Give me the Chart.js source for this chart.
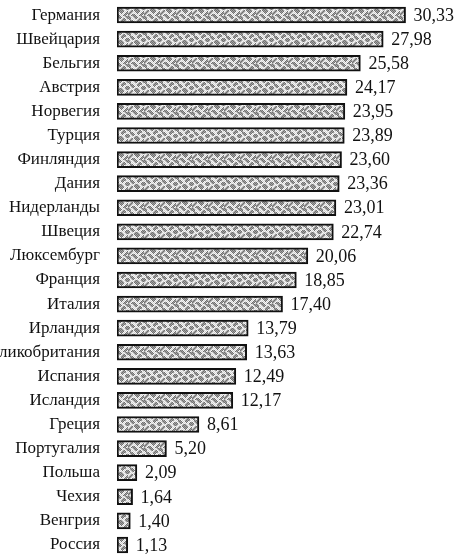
<!DOCTYPE html>
<html>
<head>
<meta charset="utf-8">
<script src="https://cdn.jsdelivr.net/npm/chart.js@4/dist/chart.umd.min.js"></script>
<style>
html,body{margin:0;padding:0;background:#fff;overflow:hidden;}
canvas{display:block;}
</style>
</head>
<body>
<canvas id="c" width="460" height="560" style="width:460px;height:560px"></canvas>
<script>
const countries = ["Германия","Швейцария","Бельгия","Австрия","Норвегия","Турция","Финляндия","Дания","Нидерланды","Швеция","Люксембург","Франция","Италия","Ирландия","Великобритания","Испания","Исландия","Греция","Португалия","Польша","Чехия","Венгрия","Россия"];
const values = [30.33,27.98,25.58,24.17,23.95,23.89,23.60,23.36,23.01,22.74,20.06,18.85,17.40,13.79,13.63,12.49,12.17,8.61,5.20,2.09,1.64,1.40,1.13];

// dithered gray texture (deterministic, blotchy halftone look)
function makePattern(){
  const n = 16;
  const p = document.createElement('canvas');
  p.width = n; p.height = n;
  const g = p.getContext('2d');
  // light/dark blotch map for a 16x16 tile (1 = darker area)
  const map = [
    "1100011110000111",
    "1110001111000011",
    "1110000110011001",
    "0110000000111100",
    "0011100001111100",
    "0011110001110000",
    "1001111000100011",
    "1100110000000111",
    "1100000111000111",
    "1000001111100011",
    "0001101111110000",
    "0011100111110001",
    "0111000011100011",
    "1110000001000111",
    "1100111000001110",
    "1001111100011100"
  ];
  for(let y=0;y<n;y++)for(let x=0;x<n;x++){
    const dark = map[y][x]==='1';
    const chk = (x+y)%2===0;
    g.fillStyle = dark ? (chk?'#707070':'#a4a4a4') : (chk?'#d2d2d2':'#f6f6f6');
    g.fillRect(x,y,1,1);
  }
  return g.createPattern(p,'repeat');
}

const valueLabels = {
  id:'valueLabels',
  afterDatasetsDraw(chart){
    const ctx = chart.ctx;
    const meta = chart.getDatasetMeta(0);
    ctx.save();
    ctx.font = '18px "Liberation Serif", "DejaVu Serif", serif';
    ctx.fillStyle = '#111';
    ctx.textBaseline = 'middle';
    ctx.textAlign = 'left';
    meta.data.forEach((bar,i)=>{
      const v = chart.data.datasets[0].data[i];
      ctx.fillText(v.toFixed(2).replace('.',','), bar.x + 8, bar.y + 1);
    });
    ctx.restore();
  }
};

new Chart(document.getElementById('c'),{
  type:'bar',
  data:{
    labels:countries,
    datasets:[{
      data:values,
      backgroundColor:makePattern(),
      borderColor:'#111',
      borderWidth:2,
      borderSkipped:false,
      barThickness:16
    }]
  },
  options:{
    indexAxis:'y',
    responsive:false,
    devicePixelRatio:1,
    animation:false,
    layout:{padding:{top:0,bottom:0,left:0,right:10}},
    plugins:{legend:{display:false},tooltip:{enabled:false}},
    scales:{
      x:{display:false,min:0,max:35},
      y:{
        grid:{display:false,drawTicks:true,tickLength:17},
        border:{display:false},
        ticks:{
          autoSkip:false,
          padding:0,
          color:'#111',
          font:{family:'"Liberation Serif", "DejaVu Serif", serif',size:17}
        },
        afterFit(scale){
          scale.width = 117;
          scale.paddingTop = 3;
          scale.paddingBottom = 3;
        }
      }
    }
  },
  plugins:[valueLabels]
});
</script>
</body>
</html>
